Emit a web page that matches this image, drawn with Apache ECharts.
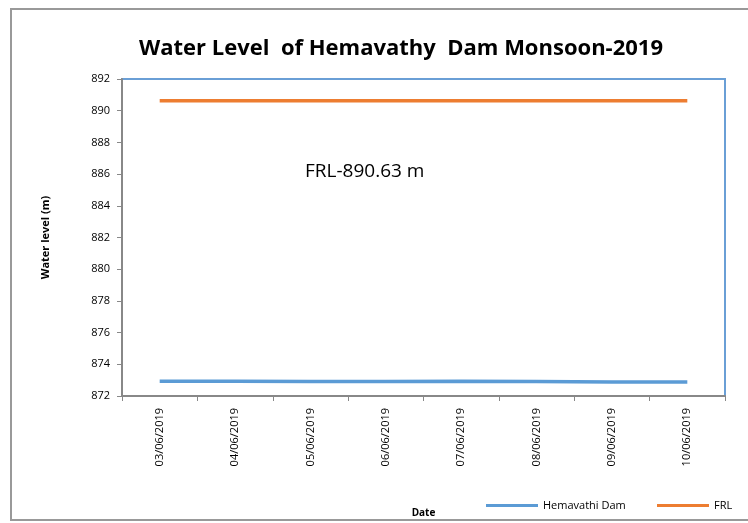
<!DOCTYPE html>
<html>
<head>
<meta charset="utf-8">
<script src="https://cdn.jsdelivr.net/npm/echarts@6/dist/echarts.min.js"></script>
<style>html,body{margin:0;padding:0;background:#fff;}#c{width:748px;height:523px;}</style>
</head>
<body>
<div id="c"></div>
<script>
const categories = ['03/06/2019','04/06/2019','05/06/2019','06/06/2019','07/06/2019','08/06/2019','09/06/2019','10/06/2019'];
const hemavathi = [872.93, 872.93, 872.92, 872.92, 872.93, 872.92, 872.88, 872.88];
const frl = [890.63, 890.63, 890.63, 890.63, 890.63, 890.63, 890.63, 890.63];
const yTicks = {min: 872, max: 892, interval: 2};

const font = '"Open Sans", "Liberation Sans", sans-serif';
const legendCommon = {
  top: 500, itemWidth: 52, itemHeight: 3, icon: 'rect', padding: 0,
  textStyle: {fontFamily: font, fontSize: 11, color: '#000'}
};
const chart = echarts.init(document.getElementById('c'));
chart.setOption({
  animation: false,
  backgroundColor: '#fff',
  textStyle: {fontFamily: font},
  title: {
    text: 'Water Level  of Hemavathy  Dam Monsoon-2019',
    left: 396, top: 33, textAlign: 'center',
    textStyle: {fontFamily: font, fontWeight: 'bold', fontSize: 22, color: '#000'}
  },
  grid: {left: 122, right: 23, top: 79, bottom: 122, show: true, borderColor: '#6a9fd6', borderWidth: 2, backgroundColor: 'transparent'},
  legend: [
    Object.assign({left: 486, data: ['Hemavathi Dam']}, legendCommon),
    Object.assign({left: 657, data: ['FRL']}, legendCommon)
  ],
  xAxis: {
    type: 'category', data: categories, boundaryGap: true,
    name: 'Date', nameLocation: 'middle', nameGap: 112,
    nameTextStyle: {fontFamily: font, fontWeight: 'bold', fontSize: 10, color: '#000'},
    axisLine: {lineStyle: {color: '#888', width: 2}},
    axisTick: {show: true, length: 5, lineStyle: {color: '#888'}},
    axisLabel: {rotate: 90, fontSize: 11, color: '#000', margin: 12, fontFamily: font},
    splitLine: {show: false}
  },
  yAxis: {
    type: 'value', min: yTicks.min, max: yTicks.max, interval: yTicks.interval,
    name: 'Water level (m)', nameLocation: 'middle', nameGap: 71,
    nameTextStyle: {fontFamily: font, fontWeight: 'bold', fontSize: 11, color: '#000'},
    axisLine: {show: true, lineStyle: {color: '#888', width: 2}},
    axisTick: {show: true, length: 5, lineStyle: {color: '#888'}},
    axisLabel: {fontSize: 11, color: '#000', margin: 12, fontFamily: font},
    splitLine: {show: false}
  },
  series: [
    {name: 'Hemavathi Dam', type: 'line', data: hemavathi, symbol: 'none', lineStyle: {color: '#5B9BD5', width: 3.5}, itemStyle: {color: '#5B9BD5'}},
    {name: 'FRL', type: 'line', data: frl, symbol: 'none', lineStyle: {color: '#ED7D31', width: 3.5}, itemStyle: {color: '#ED7D31'}}
  ],
  graphic: [
    {type: 'rect', shape: {x: 11, y: 9, width: 760, height: 511}, style: {fill: 'none', stroke: '#999', lineWidth: 2}, silent: true},
    {type: 'text', left: 305, top: 162, style: {text: 'FRL-890.63 m', fontFamily: font, fontSize: 19, fill: '#000'}}
  ]
});
</script>
</body>
</html>
